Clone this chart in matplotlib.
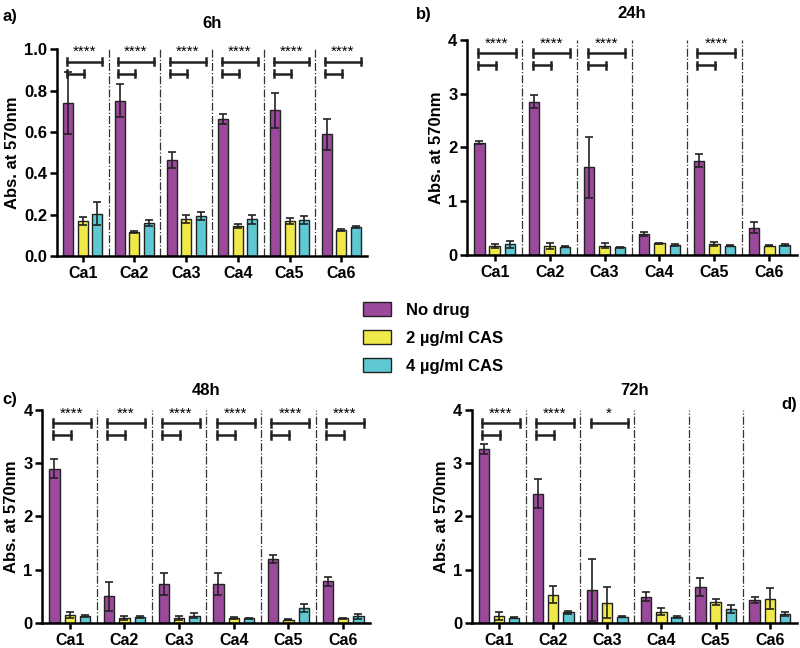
import numpy as np
import matplotlib.pyplot as plt
from matplotlib.patches import Patch

plt.rcParams['font.family'] = ['Liberation Sans', 'DejaVu Sans']
plt.rcParams['font.weight'] = 'bold'

strains = ['Ca1', 'Ca2', 'Ca3', 'Ca4', 'Ca5', 'Ca6']
series = ['No drug', '2 µg/ml CAS', '4 µg/ml CAS']
colors = ['#9b4a9b', '#f0e94a', '#5ec8d3']

# 6h
nodrug_6h = [0.738, 0.75, 0.465, 0.662, 0.705, 0.588]
nodrug_6h_err = [0.15, 0.08, 0.04, 0.025, 0.085, 0.075]
cas2_6h = [0.17, 0.115, 0.178, 0.143, 0.17, 0.127]
cas2_6h_err = [0.02, 0.005, 0.02, 0.01, 0.015, 0.005]
cas4_6h = [0.205, 0.16, 0.193, 0.178, 0.175, 0.138]
cas4_6h_err = [0.055, 0.015, 0.02, 0.022, 0.018, 0.005]
stars_6h = ['****', '****', '****', '****', '****', '****']
short_6h = [True, True, True, True, True, True]

# 24h
nodrug_24h = [2.09, 2.85, 1.63, 0.38, 1.75, 0.5]
nodrug_24h_err = [0.03, 0.12, 0.57, 0.04, 0.12, 0.1]
cas2_24h = [0.16, 0.16, 0.17, 0.21, 0.2, 0.17]
cas2_24h_err = [0.04, 0.06, 0.04, 0.01, 0.03, 0.01]
cas4_24h = [0.19, 0.15, 0.14, 0.18, 0.17, 0.18]
cas4_24h_err = [0.06, 0.01, 0.01, 0.02, 0.01, 0.01]
stars_24h = ['****', '****', '****', '', '****', '']
short_24h = [True, True, True, False, True, False]

# 48h
nodrug_48h = [2.9, 0.5, 0.73, 0.73, 1.2, 0.78]
nodrug_48h_err = [0.18, 0.27, 0.21, 0.21, 0.07, 0.08]
cas2_48h = [0.15, 0.09, 0.09, 0.09, 0.06, 0.08]
cas2_48h_err = [0.06, 0.03, 0.03, 0.02, 0.01, 0.01]
cas4_48h = [0.13, 0.1, 0.13, 0.08, 0.28, 0.12]
cas4_48h_err = [0.02, 0.02, 0.05, 0.01, 0.08, 0.05]
stars_48h = ['****', '***', '****', '****', '****', '****']
short_48h = [True, True, True, True, True, True]

# 72h
nodrug_72h = [3.27, 2.43, 0.61, 0.49, 0.67, 0.43]
nodrug_72h_err = [0.1, 0.27, 0.58, 0.08, 0.17, 0.06]
cas2_72h = [0.13, 0.53, 0.38, 0.21, 0.39, 0.45]
cas2_72h_err = [0.08, 0.16, 0.3, 0.07, 0.06, 0.2]
cas4_72h = [0.09, 0.2, 0.11, 0.1, 0.26, 0.17]
cas4_72h_err = [0.01, 0.03, 0.01, 0.02, 0.08, 0.04]
stars_72h = ['****', '****', '*', '', '', '']
short_72h = [True, True, False, False, False, False]


def bracket(ax, x0, x1, y, h):
    ax.plot([x0, x1], [y, y], color='#222222', lw=1.8, clip_on=False)
    for xe in [x0, x1]:
        ax.plot([xe, xe], [y - h, y + h], color='#222222', lw=1.8, clip_on=False)


def panel(ax, title, vals, errs, stars, short, ymax, yticks, fmt, pad):
    x = np.arange(len(strains))
    offs = [-0.28, 0.0, 0.28]
    for k in range(3):
        ax.bar(x + offs[k], vals[k], 0.19, yerr=errs[k], color=colors[k],
               edgecolor='#222222', linewidth=1.0, capsize=3,
               error_kw={'elinewidth': 1.2, 'capthick': 1.2, 'ecolor': '#222222'})
    for i in range(len(strains) - 1):
        ax.plot([i + 0.5, i + 0.5], [0, ymax], color='#333333', lw=0.9,
                ls='-.', zorder=0)
    for i, s in enumerate(stars):
        if s == '':
            continue
        bracket(ax, i - 0.31, i + 0.38, ymax * 0.94, ymax * 0.018)
        if short[i]:
            bracket(ax, i - 0.31, i + 0.02, ymax * 0.882, ymax * 0.018)
        ax.text(i + 0.03, ymax * 0.952, s, ha='center', va='bottom',
                fontsize=11, fontweight='normal', clip_on=False)
    ax.set_xlim(-0.5, len(strains) - 0.5)
    ax.set_ylim(0, ymax)
    ax.set_yticks(yticks)
    ax.set_yticklabels([fmt.format(t) for t in yticks])
    ax.set_xticks(x)
    ax.set_xticklabels(strains)
    ax.tick_params(axis='y', labelsize=12, width=1.8, length=5, pad=2)
    ax.tick_params(axis='x', labelsize=11.5, width=1.8, length=4)
    for lab in ax.get_xticklabels() + ax.get_yticklabels():
        lab.set_fontweight('bold')
    ax.spines['top'].set_visible(False)
    ax.spines['right'].set_visible(False)
    ax.spines['left'].set_linewidth(1.8)
    ax.spines['bottom'].set_linewidth(1.8)
    ax.set_ylabel('Abs. at 570nm', fontsize=12, fontweight='bold', labelpad=3)
    ax.set_title(title, fontsize=12, fontweight='bold', pad=pad)


fig = plt.figure(figsize=(8, 6.48), dpi=100)
ax_a = fig.add_axes([0.071, 0.605, 0.388, 0.319])
ax_b = fig.add_axes([0.584, 0.607, 0.412, 0.331])
ax_c = fig.add_axes([0.053, 0.039, 0.41, 0.328])
ax_d = fig.add_axes([0.59, 0.039, 0.406, 0.328])

panel(ax_a, '6h', [nodrug_6h, cas2_6h, cas4_6h],
      [nodrug_6h_err, cas2_6h_err, cas4_6h_err], stars_6h, short_6h,
      1.0, [0, 0.2, 0.4, 0.6, 0.8, 1.0], '{:.1f}', 15)
panel(ax_b, '24h', [nodrug_24h, cas2_24h, cas4_24h],
      [nodrug_24h_err, cas2_24h_err, cas4_24h_err], stars_24h, short_24h,
      4, [0, 1, 2, 3, 4], '{:d}', 16)
panel(ax_c, '48h', [nodrug_48h, cas2_48h, cas4_48h],
      [nodrug_48h_err, cas2_48h_err, cas4_48h_err], stars_48h, short_48h,
      4, [0, 1, 2, 3, 4], '{:d}', 11)
panel(ax_d, '72h', [nodrug_72h, cas2_72h, cas4_72h],
      [nodrug_72h_err, cas2_72h_err, cas4_72h_err], stars_72h, short_72h,
      4, [0, 1, 2, 3, 4], '{:d}', 11)

fig.text(0.003, 0.975, 'a)', fontsize=12, fontweight='bold', va='center')
fig.text(0.52, 0.978, 'b)', fontsize=12, fontweight='bold', va='center')
fig.text(0.003, 0.383, 'c)', fontsize=12, fontweight='bold', va='center')
fig.text(0.997, 0.375, 'd)', fontsize=12, fontweight='bold', va='center',
         ha='right')

handles = [Patch(facecolor=c, edgecolor='#222222', linewidth=1.0) for c in colors]
fig.legend(handles, series, loc='upper left', bbox_to_anchor=(0.435, 0.557),
           frameon=False, handlelength=1.7, handleheight=0.9,
           labelspacing=0.75, handletextpad=0.9,
           prop={'weight': 'bold', 'size': 12})

fig.savefig('out.png', dpi=100)
